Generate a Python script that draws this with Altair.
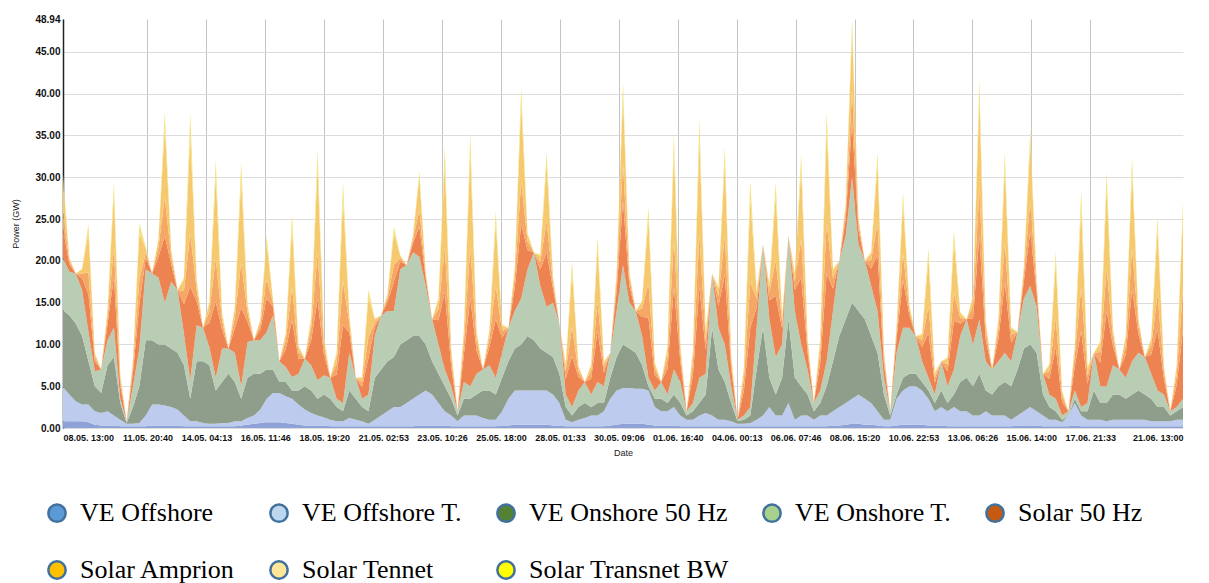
import altair as alt
import pandas as pd
from datetime import datetime, timedelta, timezone

# ---------------- data (GW, one value every 6 h from 08.05. 13:00) ----------------
series_names = ["VE Offshore", "VE Offshore T.", "VE Onshore 50 Hz", "VE Onshore T.",
                "Solar 50 Hz", "Solar Amprion", "Solar Tennet", "Solar Transnet BW"]

tick_labels = ["08.05. 13:00", "11.05. 20:40", "14.05. 04:13", "16.05. 11:46", "18.05. 19:20",
               "21.05. 02:53", "23.05. 10:26", "25.05. 18:00", "28.05. 01:33", "30.05. 09:06",
               "01.06. 16:40", "04.06. 00:13", "06.06. 07:46", "08.06. 15:20", "10.06. 22:53",
               "13.06. 06:26", "15.06. 14:00", "17.06. 21:33", "21.06. 13:00"]

y_ticks = [0, 5, 10, 15, 20, 25, 30, 35, 40, 45, 48.94]

ve_offshore = [
    0.8, 0.8, 0.8, 0.8, 0.7, 0.4, 0.3, 0.3, 0.3, 0.2, 0.2, 0.2, 0.2, 0.2, 0.3, 0.3,
    0.3, 0.3, 0.3, 0.2, 0.2, 0.2, 0.2, 0.2, 0.2, 0.2, 0.2, 0.2, 0.3, 0.4, 0.5, 0.6,
    0.7, 0.7, 0.7, 0.6, 0.5, 0.4, 0.3, 0.3, 0.3, 0.3, 0.2, 0.2, 0.2, 0.2, 0.2, 0.2,
    0.2, 0.2, 0.2, 0.2, 0.2, 0.2, 0.2, 0.2, 0.3, 0.3, 0.3, 0.3, 0.3, 0.2, 0.2, 0.2,
    0.2, 0.2, 0.2, 0.2, 0.2, 0.3, 0.3, 0.4, 0.4, 0.4, 0.4, 0.4, 0.4, 0.3, 0.3, 0.2,
    0.2, 0.2, 0.2, 0.2, 0.2, 0.2, 0.3, 0.4, 0.5, 0.5, 0.5, 0.5, 0.4, 0.3, 0.3, 0.3,
    0.3, 0.2, 0.2, 0.2, 0.2, 0.2, 0.2, 0.2, 0.2, 0.2, 0.2, 0.2, 0.2, 0.2, 0.2, 0.2,
    0.2, 0.2, 0.2, 0.2, 0.2, 0.2, 0.2, 0.2, 0.2, 0.3, 0.3, 0.4, 0.5, 0.5, 0.4, 0.4,
    0.3, 0.2, 0.2, 0.3, 0.4, 0.4, 0.4, 0.4, 0.3, 0.3, 0.3, 0.2, 0.2, 0.2, 0.2, 0.2,
    0.2, 0.2, 0.2, 0.2, 0.2, 0.2, 0.3, 0.3, 0.3, 0.3, 0.2, 0.2, 0.2, 0.2, 0.2, 0.3,
    0.2, 0.2, 0.2, 0.2, 0.2, 0.2, 0.2, 0.2, 0.2, 0.2, 0.2, 0.2, 0.2, 0.2, 0.2, 0.2,
    0.2]

ve_offshore_t = [
    4.1, 3.2, 2.4, 2.0, 2.1, 1.6, 1.5, 1.7, 1.2, 0.8, 0.3, 0.3, 0.4, 1.3, 2.5, 2.5,
    2.4, 2.2, 1.9, 1.3, 0.6, 0.6, 0.4, 0.3, 0.3, 0.4, 0.4, 0.6, 0.5, 0.8, 1.0, 1.6,
    2.8, 3.5, 3.5, 3.2, 3.0, 2.4, 1.9, 1.5, 1.2, 1.0, 0.8, 0.6, 0.6, 1.0, 0.8, 0.6,
    0.3, 0.8, 1.3, 1.8, 2.3, 2.3, 2.8, 3.3, 3.7, 4.2, 3.7, 2.7, 1.7, 1.3, 0.6, 1.3,
    1.3, 1.3, 1.0, 0.8, 0.8, 1.7, 3.2, 4.1, 4.1, 4.1, 4.1, 4.1, 4.1, 3.7, 2.7, 0.8,
    0.5, 0.8, 1.0, 1.3, 1.3, 1.8, 3.2, 4.1, 4.3, 4.3, 4.2, 4.2, 4.1, 2.2, 1.7, 1.7,
    2.2, 1.3, 0.8, 0.8, 1.3, 1.6, 1.3, 0.8, 0.8, 0.6, 0.3, 0.3, 0.4, 0.8, 1.3, 2.3,
    1.3, 1.3, 2.8, 0.8, 1.3, 1.3, 0.8, 1.3, 1.3, 1.7, 2.2, 2.6, 3.0, 3.5, 3.1, 2.6,
    1.7, 0.8, 0.8, 3.2, 4.1, 4.6, 4.6, 4.1, 3.2, 1.7, 2.2, 1.8, 2.3, 1.8, 1.8, 1.3,
    1.3, 1.8, 1.3, 1.3, 1.3, 0.8, 1.2, 1.7, 2.2, 1.7, 1.3, 0.8, 0.8, 0.5, 1.3, 2.7,
    1.3, 0.8, 0.8, 0.8, 0.6, 0.8, 0.8, 0.8, 0.8, 0.8, 0.8, 0.6, 0.6, 0.6, 0.6, 0.8,
    0.8]

ve_onshore_50hz = [
    9.2, 9.5, 9.3, 8.2, 5.2, 3.0, 2.4, 5.5, 7.0, 2.0, 0.1, 2.0, 4.4, 9.0, 7.7, 7.2,
    7.3, 7.0, 6.8, 6.0, 2.7, 7.2, 7.4, 7.0, 4.0, 4.9, 5.9, 4.7, 2.7, 4.8, 5.0, 4.3,
    3.5, 2.8, 1.3, 1.7, 1.0, 1.7, 2.8, 2.7, 2.0, 2.7, 2.5, 1.7, 1.2, 3.3, 2.5, 1.7,
    1.5, 5.0, 5.5, 6.0, 6.0, 7.5, 7.5, 7.5, 7.0, 5.5, 4.0, 3.5, 3.0, 2.0, 0.7, 2.0,
    2.0, 2.5, 3.3, 3.5, 3.0, 4.0, 4.5, 5.0, 5.5, 6.5, 6.0, 5.0, 4.5, 4.5, 3.5, 1.5,
    0.8, 1.5, 1.8, 1.0, 1.5, 1.0, 2.5, 4.0, 5.2, 4.7, 4.3, 2.8, 0.5, 1.0, 1.5, 1.0,
    1.5, 1.5, 0.5, 1.0, 1.5, 2.2, 10.5, 6.0, 4.5, 2.2, 0.3, 0.5, 0.9, 6.0, 10.5, 3.5,
    2.5, 4.5, 10.0, 5.0, 3.5, 2.5, 1.0, 1.5, 3.5, 6.0, 8.5, 10.0, 11.5, 10.0, 9.5, 8.0,
    7.0, 3.0, 0.5, 0.5, 1.5, 1.5, 1.5, 1.0, 1.0, 1.0, 2.0, 1.0, 1.5, 3.5, 4.0, 3.5,
    5.0, 2.5, 2.5, 3.5, 4.0, 4.0, 5.5, 7.5, 7.5, 7.0, 2.5, 1.5, 1.0, 0.3, 0.0, 0.5,
    0.5, 1.0, 3.5, 2.0, 2.2, 3.0, 3.0, 2.5, 3.0, 3.5, 3.0, 2.7, 1.7, 1.7, 0.7, 1.0,
    1.5]

ve_onshore_t = [
    6.2, 5.2, 6.0, 5.5, 3.5, 1.8, 2.8, 3.0, 3.5, 0.5, 0.2, 2.5, 4.5, 8.5, 8.0, 8.0,
    5.0, 8.0, 7.5, 3.8, 2.2, 4.3, 4.0, 2.2, 1.5, 4.0, 3.0, 3.5, 1.5, 4.3, 4.0, 4.0,
    4.5, 6.5, 2.5, 1.8, 1.6, 2.0, 3.3, 3.0, 2.2, 2.3, 2.5, 1.0, 1.0, 4.5, 2.5, 1.0,
    2.0, 5.0, 6.5, 6.0, 5.5, 9.0, 9.0, 10.0, 9.5, 7.0, 5.0, 3.5, 2.0, 1.5, 0.5, 2.0,
    1.5, 2.5, 2.5, 3.0, 2.0, 3.0, 4.0, 4.5, 5.5, 8.0, 10.5, 7.5, 5.5, 6.5, 6.0, 1.5,
    1.0, 2.0, 2.5, 1.5, 2.5, 2.0, 3.0, 5.5, 9.5, 5.5, 5.0, 3.5, 1.0, 1.0, 2.0, 1.0,
    3.0, 2.5, 0.5, 1.0, 3.0, 2.5, 6.5, 5.0, 4.5, 2.0, 0.2, 0.5, 1.0, 5.0, 10.0, 7.0,
    4.5, 4.0, 10.0, 8.0, 5.0, 3.0, 1.0, 1.5, 3.0, 6.0, 9.0, 10.0, 15.0, 8.0, 7.0, 6.0,
    5.0, 2.0, 0.5, 5.0, 6.0, 5.5, 4.5, 2.5, 1.5, 1.0, 3.5, 2.0, 3.0, 5.5, 7.0, 5.0,
    6.5, 3.5, 3.0, 3.0, 3.5, 3.0, 4.5, 6.0, 7.0, 5.5, 2.5, 1.5, 1.5, 0.5, 0.5, 1.0,
    0.5, 1.0, 4.5, 2.0, 2.0, 3.5, 3.0, 2.5, 4.0, 4.5, 4.5, 3.0, 2.0, 1.5, 0.5, 0.5,
    1.0]

# solar: per day [13:00, 19:00, 01:00, 07:00 of next day]
solar_50hz = [
    3.5, 0.9, 0, 1.4,  4.5, 1.2, 0, 1.9,  6.1, 1.6, 0, 1.7,  5.3, 1.4, 0, 2.5,
    8.0, 2.1, 0, 3.5,  11.2, 2.9, 0, 2.9,  9.1, 2.3, 0, 2.9,  9.4, 2.4, 0, 1.3,
    4.0, 1.0, 0, 2.1,  6.8, 1.8, 0, 3.0,  9.7, 2.5, 0, 2.9,  9.3, 2.4, 0, 1.4,
    4.4, 1.1, 0, 1.1,  3.5, 0.9, 0, 1.1,  3.6, 0.9, 0, 2.9,  9.3, 2.4, 0, 3.3,
    10.6, 2.7, 0, 2.2,  7.0, 1.8, 0, 2.8,  8.9, 2.3, 0, 2.0,  6.5, 1.7, 0, 1.9,
    6.1, 1.6, 0, 1.9,  6.1, 1.6, 0, 2.4,  7.7, 2.0, 0, 2.3,  7.2, 1.8, 0, 3.1,
    9.9, 2.5, 0, 3.4,  10.9, 2.8, 0, 2.6,  8.3, 2.1, 0, 3.0,  9.5, 2.4, 0, 2.3,
    7.3, 1.9, 0, 2.5,  8.0, 2.1, 0, 3.3,  10.5, 2.7, 0, 2.1,  6.6, 1.7, 0, 2.1,
    6.7, 1.7, 0, 1.8,  5.7, 1.5, 0, 1.7,  5.4, 1.4, 0, 1.8,  5.8, 1.5, 0, 3.1,
    10.0, 2.6, 0, 2.7,  8.4, 2.2, 0, 2.1,  6.5, 1.7, 0, 1.9,  6.2, 1.6, 0, 2.9,
    9.1, 2.3, 0, 2.8,  9.0, 2.3, 0, 2.7,  8.6, 2.2, 0, 2.3,  7.3, 1.9, 0, 2.6,
    8.3]

solar_amprion = [
    2.0, 0.4, 0, 0.6,  2.6, 0.5, 0, 0.9,  3.5, 0.7, 0, 0.8,  3.0, 0.6, 0, 1.1,
    4.6, 0.9, 0, 1.6,  6.4, 1.3, 0, 1.3,  5.2, 1.0, 0, 1.3,  5.4, 1.1, 0, 0.6,
    2.3, 0.5, 0, 1.0,  3.9, 0.8, 0, 1.4,  5.5, 1.1, 0, 1.3,  5.3, 1.1, 0, 0.6,
    2.5, 0.5, 0, 0.5,  2.0, 0.4, 0, 0.5,  2.0, 0.4, 0, 1.3,  5.3, 1.1, 0, 1.5,
    6.1, 1.2, 0, 1.0,  4.0, 0.8, 0, 1.3,  5.1, 1.0, 0, 0.9,  3.7, 0.7, 0, 0.9,
    3.5, 0.7, 0, 0.9,  3.5, 0.7, 0, 1.1,  4.4, 0.9, 0, 1.0,  4.1, 0.8, 0, 1.4,
    5.7, 1.1, 0, 1.6,  6.2, 1.2, 0, 1.2,  4.7, 0.9, 0, 1.4,  5.4, 1.1, 0, 1.0,
    4.2, 0.8, 0, 1.1,  4.6, 0.9, 0, 1.5,  6.0, 1.2, 0, 0.9,  3.8, 0.8, 0, 1.0,
    3.8, 0.8, 0, 0.8,  3.2, 0.6, 0, 0.8,  3.1, 0.6, 0, 0.8,  3.3, 0.7, 0, 1.4,
    5.7, 1.1, 0, 1.2,  4.8, 1.0, 0, 0.9,  3.7, 0.7, 0, 0.9,  3.5, 0.7, 0, 1.3,
    5.2, 1.0, 0, 1.3,  5.1, 1.0, 0, 1.2,  4.9, 1.0, 0, 1.0,  4.2, 0.8, 0, 1.2,
    4.8]

solar_tennet = [
    3.7, 0.3, 0, 0.5,  4.8, 0.4, 0, 0.7,  6.5, 0.5, 0, 0.6,  5.5, 0.5, 0, 0.9,
    8.4, 0.7, 0, 1.3,  11.8, 1.0, 0, 1.0,  9.7, 0.8, 0, 1.1,  9.9, 0.8, 0, 0.5,
    4.3, 0.3, 0, 0.8,  7.2, 0.6, 0, 1.1,  10.2, 0.8, 0, 1.1,  9.8, 0.8, 0, 0.5,
    4.7, 0.4, 0, 0.4,  3.8, 0.3, 0, 0.4,  3.8, 0.3, 0, 1.1,  9.9, 0.8, 0, 1.2,
    11.2, 0.9, 0, 0.8,  7.4, 0.6, 0, 1.0,  9.4, 0.8, 0, 0.7,  6.8, 0.6, 0, 0.7,
    6.5, 0.5, 0, 0.7,  6.4, 0.5, 0, 0.9,  8.1, 0.7, 0, 0.8,  7.6, 0.6, 0, 1.1,
    10.5, 0.8, 0, 1.2,  11.5, 0.9, 0, 0.9,  8.8, 0.7, 0, 1.1,  10.0, 0.8, 0, 0.8,
    7.7, 0.6, 0, 0.9,  8.4, 0.7, 0, 1.2,  11.0, 0.9, 0, 0.8,  7.0, 0.6, 0, 0.8,
    7.0, 0.6, 0, 0.6,  6.0, 0.5, 0, 0.6,  5.7, 0.5, 0, 0.7,  6.2, 0.5, 0, 1.1,
    10.6, 0.9, 0, 1.0,  8.9, 0.7, 0, 0.7,  6.9, 0.6, 0, 0.7,  6.5, 0.5, 0, 1.0,
    9.6, 0.8, 0, 1.0,  9.5, 0.8, 0, 1.0,  9.1, 0.7, 0, 0.8,  7.7, 0.6, 0, 1.0,
    8.8]

solar_transnet_bw = [
    0.8, 0.1, 0, 0.1,  1.0, 0.1, 0, 0.2,  1.4, 0.2, 0, 0.2,  1.2, 0.2, 0, 0.2,
    1.8, 0.2, 0, 0.3,  2.6, 0.3, 0, 0.3,  2.1, 0.3, 0, 0.3,  2.1, 0.3, 0, 0.1,
    0.9, 0.1, 0, 0.2,  1.6, 0.2, 0, 0.3,  2.2, 0.3, 0, 0.3,  2.1, 0.3, 0, 0.1,
    1.0, 0.1, 0, 0.1,  0.8, 0.1, 0, 0.1,  0.8, 0.1, 0, 0.3,  2.2, 0.3, 0, 0.3,
    2.4, 0.3, 0, 0.2,  1.5, 0.2, 0, 0.3,  1.9, 0.3, 0, 0.2,  1.5, 0.2, 0, 0.2,
    1.4, 0.2, 0, 0.2,  1.4, 0.2, 0, 0.2,  1.7, 0.2, 0, 0.2,  1.6, 0.2, 0, 0.3,
    2.2, 0.3, 0, 0.3,  2.5, 0.3, 0, 0.2,  1.9, 0.2, 0, 0.3,  2.2, 0.3, 0, 0.2,
    1.7, 0.2, 0, 0.2,  1.8, 0.2, 0, 0.3,  2.4, 0.3, 0, 0.2,  1.5, 0.2, 0, 0.2,
    1.5, 0.2, 0, 0.2,  1.3, 0.2, 0, 0.2,  1.3, 0.2, 0, 0.2,  1.4, 0.2, 0, 0.3,
    2.3, 0.3, 0, 0.2,  2.0, 0.2, 0, 0.2,  1.6, 0.2, 0, 0.2,  1.4, 0.2, 0, 0.3,
    2.1, 0.3, 0, 0.3,  2.1, 0.3, 0, 0.2,  1.9, 0.2, 0, 0.2,  1.6, 0.2, 0, 0.2,
    1.9]

series_values = [ve_offshore, ve_offshore_t, ve_onshore_50hz, ve_onshore_t,
                 solar_50hz, solar_amprion, solar_tennet, solar_transnet_bw]

area_colors = ["#8ea2d8", "#bccbee", "#8f9d8b", "#b9cdb4",
               "#ee8352", "#f5a766", "#f6c86f", "#f3e37c"]
legend_colors = ["#5b9bd5", "#bdd7ee", "#548235", "#a9d18e",
                 "#c55a11", "#ffc000", "#ffe699", "#ffff00"]

# ---------------- table ----------------
YEAR = 2015
start = datetime(YEAR, 5, 8, 13, 0, tzinfo=timezone.utc)
n = len(ve_offshore)
for name, vals in zip(series_names, series_values):
    if len(vals) != n:
        raise ValueError(f"{name}: {len(vals)} values, expected {n}")
times = [start + timedelta(hours=6 * k) for k in range(n)]

rows = []
for order, (name, vals) in enumerate(zip(series_names, series_values)):
    for t, v in zip(times, vals):
        rows.append({"time": t.strftime("%Y-%m-%dT%H:%M:%SZ"), "series": name,
                     "value": v, "order": order})
df = pd.DataFrame(rows)


def to_ms(label):
    d, rest = label.split(". ")
    day, month = d.split(".")
    hh, mm = rest.split(":")
    dt = datetime(YEAR, int(month), int(day), int(hh), int(mm), tzinfo=timezone.utc)
    return int(dt.timestamp() * 1000)


tick_ms = [to_ms(s) for s in tick_labels]
t0, t1 = tick_ms[0], tick_ms[-1]

FONT = "Liberation Sans"

x_enc = alt.X(
    "time:T",
    scale=alt.Scale(type="utc", domain=[t0, t1], nice=False),
    axis=alt.Axis(
        values=tick_ms, labelExpr="utcFormat(datum.value, '%d.%m. %H:%M')", labelAngle=0,
        labelFont=FONT, labelFontSize=9, labelFontWeight="bold", labelColor="#111",
        labelPadding=5, labelOverlap=False, ticks=False, domain=False,
        grid=True,
        gridColor={"condition": {"test": f"datum.value >= {t1}", "value": "transparent"},
                   "value": "#c4c4c4"},
        title="Date", titleFont=FONT, titleFontSize=9, titleFontWeight="normal",
        titleColor="#222", titlePadding=6,
    ),
)

y_enc = alt.Y(
    "value:Q", stack="zero",
    scale=alt.Scale(domain=[0, 48.94], nice=False),
    axis=alt.Axis(
        values=y_ticks, format=".2f",
        labelFont=FONT, labelFontSize=10, labelFontWeight="bold", labelColor="#111",
        labelPadding=3, ticks=False, domain=True, domainColor="#222", domainWidth=1.5,
        grid=True,
        gridColor={"condition": {"test": "datum.value > 48", "value": "transparent"},
                   "value": "#dcdcdc"},
        title="Power (GW)", titleFont=FONT, titleFontSize=9, titleFontWeight="normal",
        titleColor="#222", titlePadding=14,
    ),
)

areas = alt.Chart(df).mark_area(interpolate="linear").encode(
    x=x_enc,
    y=y_enc,
    color=alt.Color("series:N", scale=alt.Scale(domain=series_names, range=area_colors),
                    legend=None),
    order=alt.Order("order:Q", sort="ascending"),
)

legend_layer = alt.Chart(df).mark_circle(stroke="#41719c", strokeWidth=2.5).encode(
    color=alt.Color(
        "series:N",
        scale=alt.Scale(domain=series_names, range=legend_colors),
        legend=alt.Legend(
            title=None, orient="none", legendX=-19, legendY=481,
            direction="horizontal", columns=5, gridAlign="each",
            symbolType="circle", symbolSize=300, symbolStrokeColor="#41719c",
            symbolStrokeWidth=2.5, symbolOpacity=1,
            labelFont="Liberation Serif", labelFontSize=26, labelColor="black",
            labelLimit=600, labelOffset=10, columnPadding=29, rowPadding=29,
        ),
    ),
).transform_filter("datum.value < -1")

chart = (
    alt.layer(areas, legend_layer)
    .resolve_scale(color="independent")
    .properties(
        width=1120, height=409,
        autosize=alt.AutoSizeParams(type="none"),
        padding={"left": 55, "top": 11, "right": 18, "bottom": 168},
        background="white",
    )
    .configure_view(stroke=None)
)

chart.save("out.html", embed_options={"renderer": "svg", "actions": False})
